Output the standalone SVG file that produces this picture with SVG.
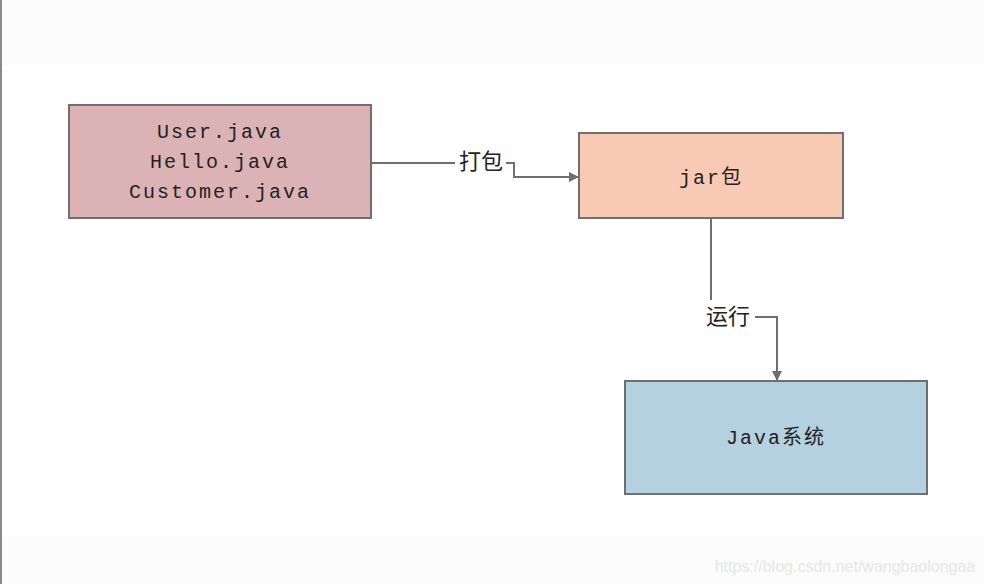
<svg xmlns="http://www.w3.org/2000/svg" width="984" height="584" viewBox="0 0 984 584">
<style>
.box{stroke:#6f6f6f;stroke-width:2}
.t{font-family:"Liberation Mono","Noto Sans CJK SC",monospace;font-size:20px;fill:#222;text-anchor:middle;letter-spacing:2px}
.lbl{font-family:"Noto Sans CJK SC",sans-serif;font-size:22px;fill:#222;text-anchor:middle}
.c{fill:none;stroke:#6f6f6f;stroke-width:2}
</style>
<defs>
<marker id="ah" markerWidth="10" markerHeight="10" refX="9" refY="5" orient="auto" markerUnits="userSpaceOnUse">
<path d="M0,0 L10,5 L0,10 Z" fill="#6f6f6f"/>
</marker>
</defs>
<rect x="0" y="0" width="984" height="584" fill="#ffffff"/>
<rect x="0" y="0" width="984" height="65" fill="#fcfbfc"/>
<rect x="0" y="535" width="984" height="49" fill="#fcfcfc"/>
<line x1="1" y1="0" x2="1" y2="584" stroke="#8a8a8a" stroke-width="2"/>
<g id="connectors">
<path class="c" d="M371,163 H455"/>
<path class="c" d="M506,163 H514 V177 H578" marker-end="url(#ah)"/>
<path class="c" d="M711,219 V300"/>
<path class="c" d="M755,317 H777 V380" marker-end="url(#ah)"/>
<text class="lbl" x="481" y="169">打包</text>
<text class="lbl" x="728" y="324">运行</text>
</g>
<g id="node-sources">
<rect class="box" x="69" y="105" width="302" height="113" fill="#dbb3b4"/>
<text class="t" x="220" y="138">User.java</text>
<text class="t" x="220" y="168">Hello.java</text>
<text class="t" x="220" y="198">Customer.java</text>
</g>
<g id="node-jar">
<rect class="box" x="579" y="133" width="264" height="85" fill="#f9cab3"/>
<text class="t" x="711" y="184">jar包</text>
</g>
<g id="node-java">
<rect class="box" x="625" y="381" width="302" height="113" fill="#b3d1de"/>
<text class="t" x="776" y="444">Java系统</text>
</g>
<text x="845" y="572" font-family="Liberation Sans,Arial,sans-serif" font-size="16" fill="#e6e6e6" text-anchor="middle">https://blog.csdn.net/wangbaolongaa</text>
</svg>
